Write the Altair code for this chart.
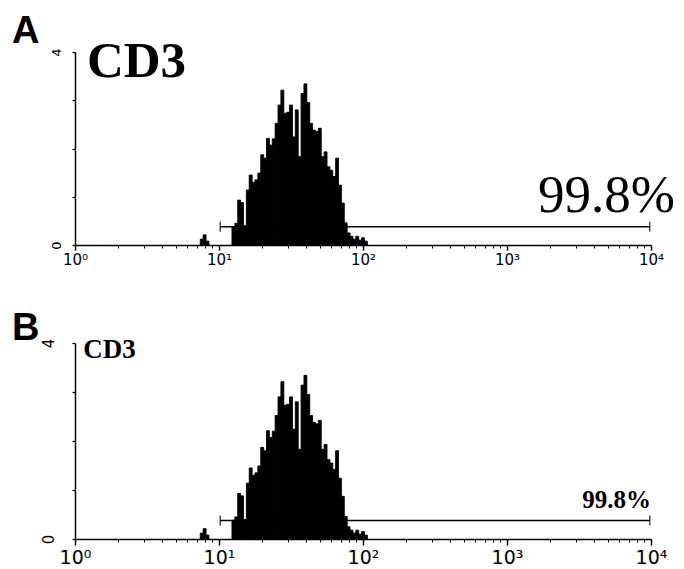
import altair as alt
import pandas as pd

# log10 fluorescence bin centres and event counts (same histogram in both panels)
bin_centers = [0.88, 0.90, 0.92,
               1.10, 1.12, 1.14, 1.16, 1.18, 1.20, 1.22, 1.24, 1.26, 1.28,
               1.30, 1.32, 1.34, 1.36, 1.38, 1.40, 1.42, 1.44, 1.46, 1.48,
               1.50, 1.52, 1.54, 1.56, 1.58, 1.60, 1.62, 1.64, 1.66, 1.68,
               1.70, 1.72, 1.74, 1.76, 1.78, 1.80, 1.82, 1.84, 1.86, 1.88,
               1.90, 1.92, 1.94, 1.96, 1.98, 2.00, 2.02]
counts = [0.12, 0.21, 0.08,
          0.38, 0.45, 0.93, 0.88, 0.40, 1.14, 1.45, 1.30, 1.35, 1.49,
          1.87, 1.80, 2.21, 2.07, 2.20, 2.52, 2.90, 3.21, 2.73, 2.75,
          2.90, 2.24, 2.80, 1.83, 3.14, 3.34, 2.95, 2.52, 2.38, 2.35,
          2.42, 1.83, 1.93, 1.62, 1.55, 1.42, 1.80, 1.24, 0.87, 0.46,
          0.25, 0.18, 0.12, 0.18, 0.10, 0.15, 0.08]
bin_half = 0.01

x_ticks = [1, 10, 100, 1000, 10000]
x_tick_labels = ["10⁰", "10¹", "10²", "10³", "10⁴"]
minor_ticks = [m * 10 ** d for d in range(4) for m in range(2, 10)]
y_ticks = [0, 1, 2, 3, 4]

gate_ends = [10.2, 9800]
gate_level = 0.38
pct_text = "99.8%"
marker_text = "CD3"
panel_letters = ["A", "B"]

hist_df = pd.DataFrame({
    "x0": [10 ** (c - bin_half) for c in bin_centers],
    "x1": [10 ** (c + bin_half) for c in bin_centers],
    "count": counts,
})
gate_df = pd.DataFrame({"g0": [gate_ends[0]], "g1": [gate_ends[1]], "y": [gate_level]})
cap_df = pd.DataFrame({"x": gate_ends, "y": [gate_level, gate_level]})

label_expr = " : ".join(
    f"datum.value == {v} ? '{l}'" for v, l in zip(x_ticks, x_tick_labels)
) + " : ''"


def panel(letter, height, xfs, xtick, xpad, yfs, ypad, pct_y, pct_size, pct_bold, pct_dx,
          mk_x, mk_y, mk_size, letter_dy):
    xs = alt.Scale(type="log", domain=[1, 10000], nice=False)
    ys = alt.Scale(domain=[0, 4], nice=False)

    hist = alt.Chart(hist_df).mark_bar(color="black", stroke="black", strokeWidth=0.9).encode(
        x=alt.X("x0:Q", scale=xs, axis=alt.Axis(
            values=x_ticks, labelExpr=label_expr, title=None, grid=False, orient="bottom",
            tickSize=xtick, tickWidth=1.5, labelPadding=xpad, labelFont="DejaVu Sans",
            labelFontSize=xfs, labelColor="black", domainColor="black", domainWidth=1.5,
            tickColor="black", labelFlush=False)),
        x2="x1:Q",
        y=alt.Y("count:Q", scale=ys, axis=alt.Axis(
            values=y_ticks, title=None, grid=False, tickSize=3, tickWidth=1.2,
            labelExpr="datum.value == 0 || datum.value == 4 ? datum.label : ''",
            labelAngle=270, labelFont="DejaVu Sans", labelFontSize=yfs, labelPadding=ypad,
            labelColor="black", domainColor="black", domainWidth=1.5, tickColor="black")),
        y2=alt.datum(0),
    )

    gate = alt.Chart(gate_df).mark_rule(color="black", strokeWidth=1.5).encode(
        x=alt.X("g0:Q", scale=xs, axis=alt.Axis(
            values=minor_ticks, labels=False, title=None, grid=False, domain=False,
            orient="bottom", tickSize=3, tickWidth=1, tickColor="black")),
        x2="g1:Q",
        y=alt.Y("y:Q", scale=ys),
    )

    caps = alt.Chart(cap_df).mark_tick(orient="vertical", color="black", size=10, thickness=1.5).encode(
        x=alt.X("x:Q", scale=xs, axis=None),
        y=alt.Y("y:Q", scale=ys),
    )

    pct = alt.Chart(pd.DataFrame({"x": [10000], "y": [pct_y], "t": [pct_text]})).mark_text(
        font="Liberation Serif", fontSize=pct_size, fontWeight="bold" if pct_bold else "normal",
        align="right", baseline="alphabetic", dx=pct_dx, color="black").encode(
        x=alt.X("x:Q", scale=xs, axis=None), y=alt.Y("y:Q", scale=ys), text="t:N")

    mk = alt.Chart(pd.DataFrame({"x": [mk_x], "y": [mk_y], "t": [marker_text]})).mark_text(
        font="Liberation Serif", fontSize=mk_size, fontWeight="bold",
        align="left", baseline="alphabetic", color="black").encode(
        x=alt.X("x:Q", scale=xs, axis=None), y=alt.Y("y:Q", scale=ys), text="t:N")

    lt = alt.Chart(pd.DataFrame({"t": [letter]})).mark_text(
        font="Liberation Sans", fontSize=38, fontWeight="bold", align="left",
        baseline="alphabetic", color="black").encode(
        x=alt.value(-63), y=alt.value(letter_dy), text="t:N")

    return alt.layer(hist, gate, caps, pct, mk, lt).resolve_axis(x="independent").properties(
        width=576, height=height,
    )


pA = panel(panel_letters[0], 193, xfs=15, xtick=5, xpad=2, yfs=13, ypad=9,
           pct_y=0.68, pct_size=53, pct_bold=False, pct_dx=24,
           mk_x=1.21, mk_y=3.48, mk_size=51, letter_dy=-9)
pB = panel(panel_letters[1], 196, xfs=19, xtick=6, xpad=3, yfs=15, ypad=16,
           pct_y=0.63, pct_size=25, pct_bold=True, pct_dx=0,
           mk_x=1.14, mk_y=3.69, mk_size=27, letter_dy=-3)

chart = alt.vconcat(pA, pB, spacing=43).properties(
    padding={"left": 4, "top": 5, "right": 0, "bottom": 0}
).configure_view(stroke=None)

chart.save("out.html", embed_options={"renderer": "svg", "actions": False})
